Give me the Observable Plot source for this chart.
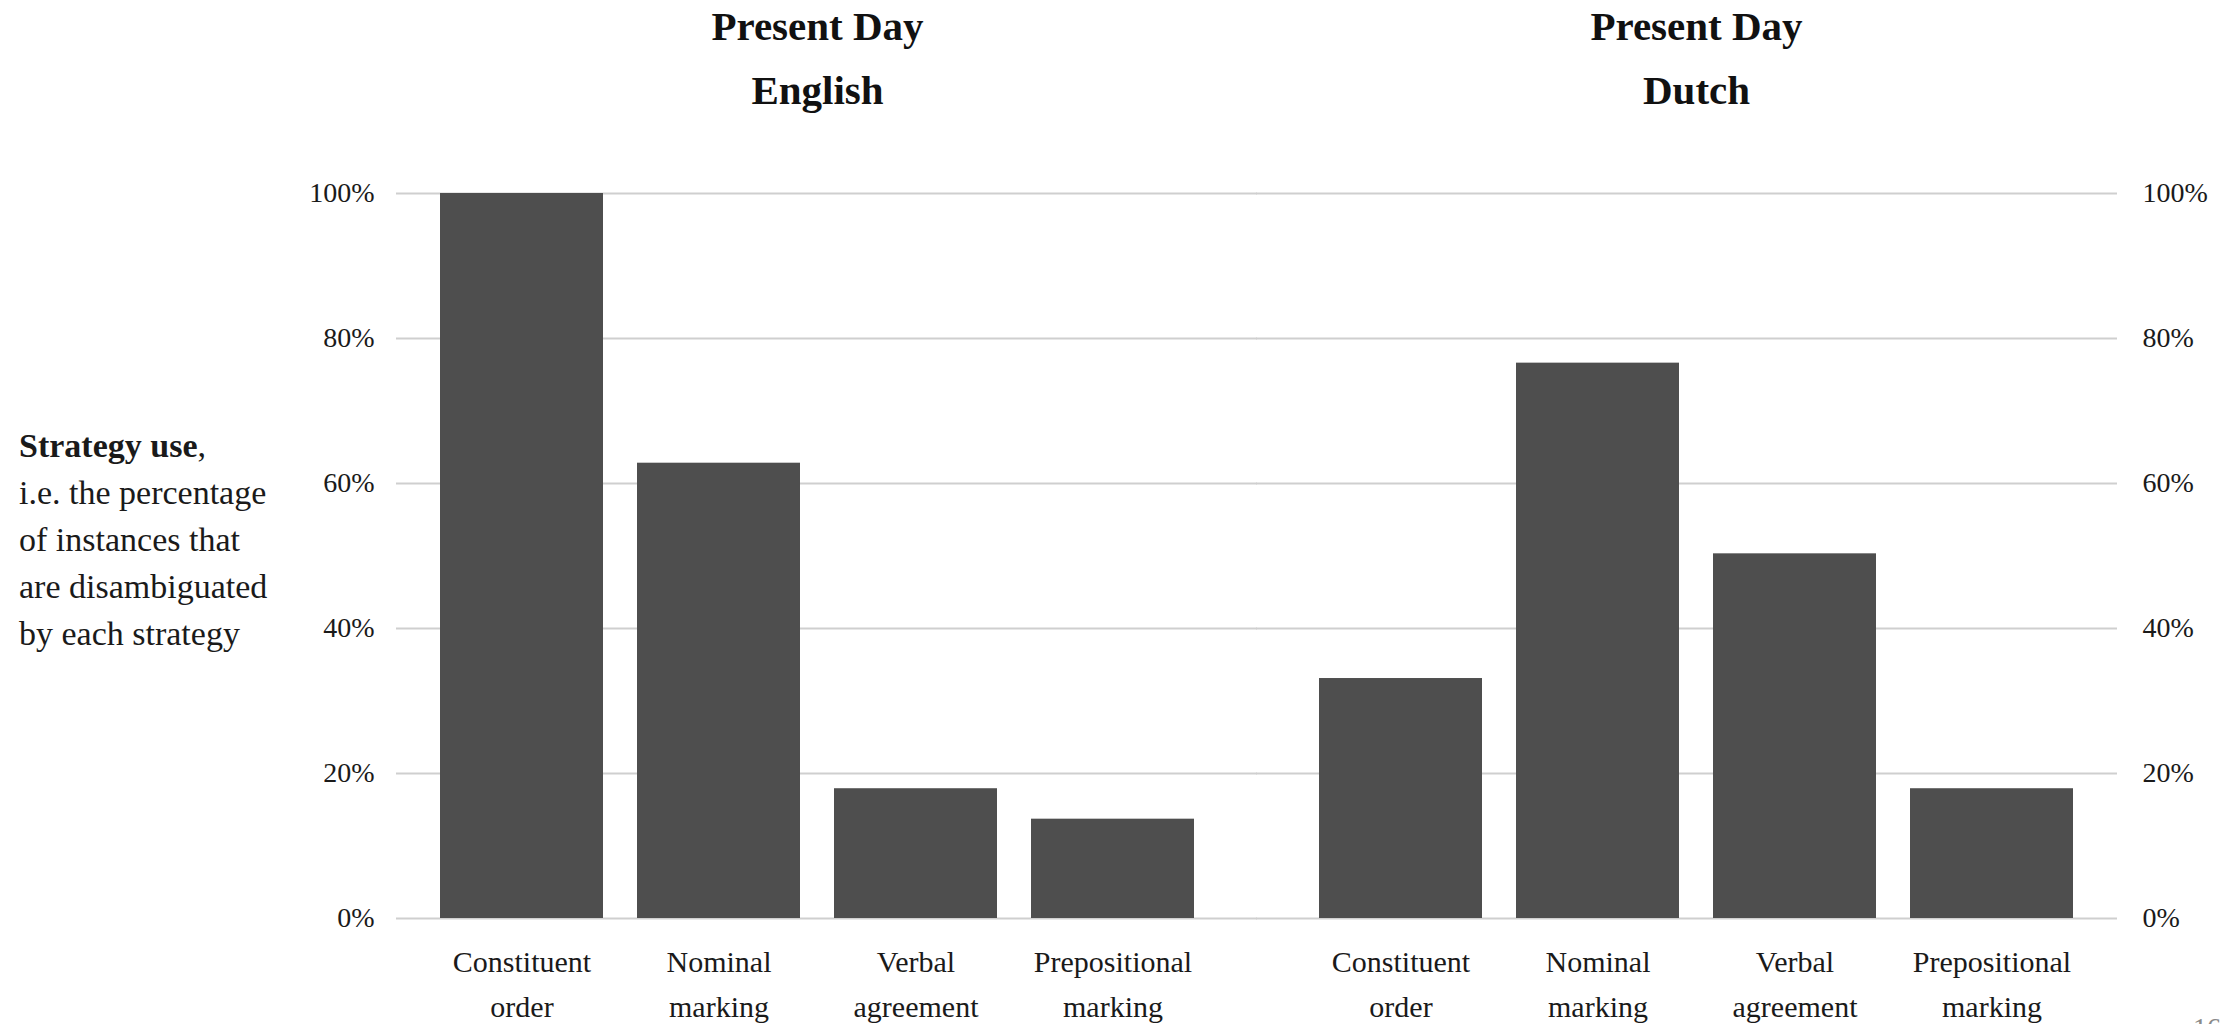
<!DOCTYPE html>
<html>
<head>
<meta charset="utf-8">
<script src="https://cdn.jsdelivr.net/npm/d3@7"></script>
<script src="https://cdn.jsdelivr.net/npm/@observablehq/plot@0.6"></script>
<style>
  html, body { margin: 0; padding: 0; background: #fff; overflow: hidden; }
  #wrap { position: relative; width: 2234px; height: 1024px; }
  #chart svg { display: block; }
  #ylabel {
    position: absolute; left: 19px; top: 422px;
    font-family: "Liberation Serif", serif; font-size: 34px; line-height: 47px;
    color: #1a1a1a; white-space: nowrap;
  }
  #page {
    position: absolute; left: 2193px; top: 1014px;
    font-family: "Liberation Serif", serif; font-size: 28px; line-height: 28px;
    color: #8a8a8a;
  }
</style>
</head>
<body>
<div id="wrap">
  <div id="chart"></div>
  <div id="ylabel"></div>
  <div id="page"></div>
</div>
<script>
// Share of instances disambiguated by each strategy, per language (percent)
const languages = ["English", "Dutch"];
const titlePrefix = "Present Day";
const strategies = ["Constituent order", "Nominal marking", "Verbal agreement", "Prepositional marking"];
const englishValues = [100, 62.8, 17.9, 13.7];
const dutchValues = [33.1, 76.6, 50.3, 17.9];
const yTicks = [0, 20, 40, 60, 80, 100];
const axisTitleBold = "Strategy use";
const axisTitleLines = ["i.e. the percentage", "of instances that", "are disambiguated", "by each strategy"];
const pageNumber = "16";

const valuesByLanguage = {English: englishValues, Dutch: dutchValues};
const rows = languages.flatMap(lang =>
  strategies.map((s, i) => ({language: lang, strategy: s, value: valuesByLanguage[lang][i]}))
);
// one set of gridlines per panel; each is stretched across the half gap so they read as continuous
const gridRows = languages.flatMap(lang => yTicks.map(v => ({language: lang, value: v})));
const gapHalf = 19;

const pct = d => `${d}%`;
const twoLine = s => s.replace(" ", "\n");

const chart = Plot.plot({
  width: 2234,
  height: 1024,
  marginTop: 193,
  marginBottom: 106,
  marginLeft: 395,
  marginRight: 116,
  style: {fontFamily: "'Liberation Serif', serif", color: "#1a1a1a", background: "#fff"},
  fx: {domain: languages, paddingInner: 0.042, paddingOuter: 0},
  x: {domain: strategies, paddingInner: 0.1705, paddingOuter: 0.217},
  y: {domain: [0, 100]},
  marks: [
    Plot.ruleY(gridRows.filter(d => d.language === languages[0]),
      {fx: "language", y: "value", stroke: "#cfcfcf", strokeWidth: 2, insetRight: -gapHalf}),
    Plot.ruleY(gridRows.filter(d => d.language === languages[1]),
      {fx: "language", y: "value", stroke: "#cfcfcf", strokeWidth: 2, insetLeft: -gapHalf}),
    Plot.barY(rows, {fx: "language", x: "strategy", y: "value", fill: "#4e4e4e"}),
    Plot.axisFx({
      anchor: "top", tickSize: 0, tickPadding: 90, label: null,
      fontSize: 41, fontWeight: "bold", lineHeight: 1.56, fill: "#111",
      tickFormat: d => `${titlePrefix}\n${d}`
    }),
    Plot.axisX({
      anchor: "bottom", tickSize: 0, tickPadding: 22, label: null,
      fontSize: 30, lineHeight: 1.5, fill: "#1a1a1a",
      tickFormat: twoLine
    }),
    Plot.axisY({
      anchor: "left", ticks: yTicks, tickSize: 0, tickPadding: 22, label: null,
      fontSize: 28, fill: "#1a1a1a", tickFormat: pct
    }),
    Plot.axisY({
      anchor: "right", ticks: yTicks, tickSize: 0, tickPadding: 25, label: null,
      fontSize: 28, fill: "#1a1a1a", tickFormat: pct
    })
  ]
});
document.getElementById("chart").appendChild(chart);

const yl = document.getElementById("ylabel");
const b = document.createElement("b");
b.textContent = axisTitleBold;
yl.appendChild(b);
yl.appendChild(document.createTextNode(","));
for (const line of axisTitleLines) {
  yl.appendChild(document.createElement("br"));
  yl.appendChild(document.createTextNode(line));
}
document.getElementById("page").textContent = pageNumber;
</script>
</body>
</html>
